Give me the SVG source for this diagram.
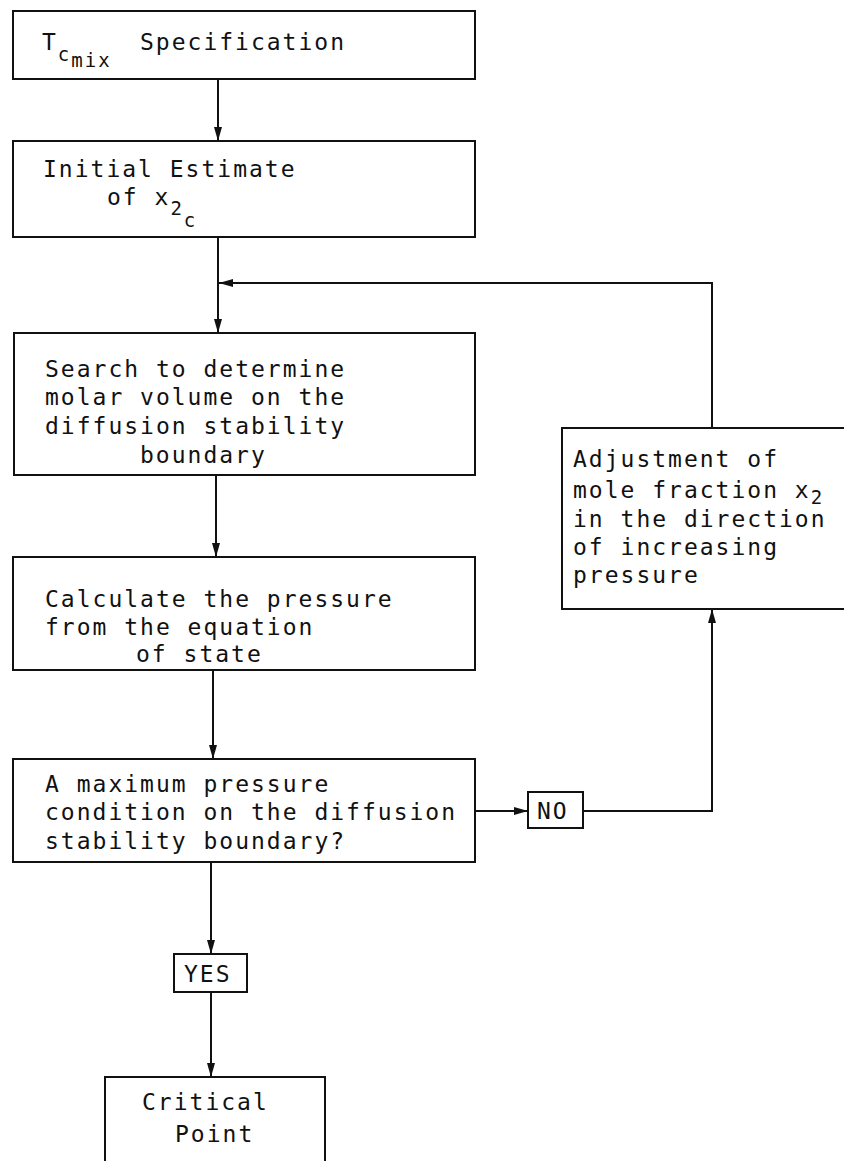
<svg xmlns="http://www.w3.org/2000/svg" width="844" height="1161" viewBox="0 0 844 1161">
<defs>
<style>
.box{fill:#fff;stroke:#111;stroke-width:2}
.t{font-family:"DejaVu Sans Mono","Liberation Mono",monospace;font-size:23px;letter-spacing:2px;fill:#111}
.s{font-size:19px}
.c{fill:none;stroke:#111;stroke-width:2}
</style>
<marker id="ah" markerUnits="userSpaceOnUse" markerWidth="15" markerHeight="10" refX="14" refY="5" orient="auto">
<path d="M0,1 L14,5 L0,9 z" fill="#111"/>
</marker>
</defs>
<rect width="844" height="1161" fill="#fff"/>
<g id="connectors">
<line class="c" x1="218" y1="79" x2="218" y2="141" marker-end="url(#ah)"/>
<line class="c" x1="218" y1="237" x2="218" y2="333" marker-end="url(#ah)"/>
<polyline class="c" points="712,428 712,283 219,283" marker-end="url(#ah)"/>
<line class="c" x1="216" y1="475" x2="216" y2="557" marker-end="url(#ah)"/>
<line class="c" x1="213" y1="670" x2="213" y2="759" marker-end="url(#ah)"/>
<line class="c" x1="475" y1="811" x2="528" y2="811" marker-end="url(#ah)"/>
<polyline class="c" points="583,811 712,811 712,609" marker-end="url(#ah)"/>
<line class="c" x1="211" y1="862" x2="211" y2="954" marker-end="url(#ah)"/>
<line class="c" x1="211" y1="992" x2="211" y2="1077" marker-end="url(#ah)"/>
</g>
<g id="n1">
<rect class="box" x="13" y="11" width="462" height="68"/>
<text class="t" x="42" y="50">T<tspan class="s" dy="11">c</tspan><tspan class="s" dy="6">mix</tspan><tspan dy="-17" x="140">Specification</tspan></text>
</g>
<g id="n2">
<rect class="box" x="13" y="141" width="462" height="96"/>
<text class="t" x="43" y="177">Initial Estimate</text>
<text class="t" x="107" y="205">of x<tspan class="s" dy="10">2</tspan><tspan class="s" dy="12">c</tspan></text>
</g>
<g id="n3">
<rect class="box" x="14" y="333" width="461" height="142"/>
<text class="t" x="45" y="377">Search to determine</text>
<text class="t" x="45" y="405">molar volume on the</text>
<text class="t" x="45" y="434">diffusion stability</text>
<text class="t" x="140" y="463">boundary</text>
</g>
<g id="n4">
<rect class="box" x="13" y="557" width="462" height="113"/>
<text class="t" x="45" y="607">Calculate the pressure</text>
<text class="t" x="45" y="635">from the equation</text>
<text class="t" x="136" y="662">of state</text>
</g>
<g id="n5">
<rect class="box" x="13" y="759" width="462" height="103"/>
<text class="t" x="45" y="792">A maximum pressure</text>
<text class="t" x="45" y="820">condition on the diffusion</text>
<text class="t" x="45" y="849">stability boundary?</text>
</g>
<g id="no">
<rect class="box" x="528" y="792" width="55" height="36"/>
<text class="t" x="537" y="819">NO</text>
</g>
<g id="n6">
<rect class="box" x="562" y="428" width="290" height="181"/>
<text class="t" x="573" y="467">Adjustment of</text>
<text class="t" x="573" y="498">mole fraction x<tspan class="s" dy="6">2</tspan></text>
<text class="t" x="573" y="527">in the direction</text>
<text class="t" x="573" y="555">of increasing</text>
<text class="t" x="573" y="583">pressure</text>
</g>
<g id="yes">
<rect class="box" x="174" y="954" width="73" height="38"/>
<text class="t" x="184" y="982">YES</text>
</g>
<g id="n7">
<rect class="box" x="105" y="1077" width="220" height="100"/>
<text class="t" x="142" y="1110">Critical</text>
<text class="t" x="175" y="1142">Point</text>
</g>
</svg>
